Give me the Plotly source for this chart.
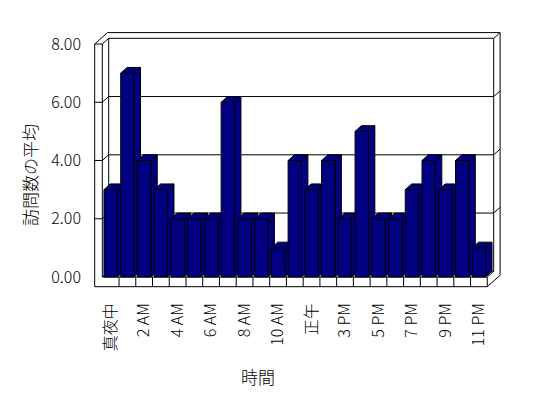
import plotly.graph_objects as go

# ---------------- data ----------------
hour_labels = ["真夜中", "1 AM", "2 AM", "3 AM", "4 AM", "5 AM", "6 AM", "7 AM",
               "8 AM", "9 AM", "10 AM", "11 AM", "正午", "2 PM", "3 PM", "4 PM",
               "5 PM", "6 PM", "7 PM", "8 PM", "9 PM", "10 PM", "11 PM"]
avg_visits = [3, 7, 4, 3, 2, 2, 2, 6, 2, 2, 1, 4, 3, 4, 2, 5, 2, 2, 3, 4, 3, 4, 1]
y_ticks = [0, 2, 4, 6, 8]
y_tick_text = ["0.00", "2.00", "4.00", "6.00", "8.00"]
x_title = "時間"
y_title = "訪問数の平均"

positions = list(range(len(hour_labels)))
tick_positions = positions[::2]
tick_text = hour_labels[::2]

# ---------------- geometry ----------------
# The page body has an 8px default margin, so the figure is drawn 8px smaller
# and every target pixel position is shifted by that offset.
OFF = 8
W, H = 548 - OFF, 398 - OFF
L, R, T, B = 92 - OFF, 503 - OFF, 30 - OFF, 289 - OFF
PX_X0, PX_X1 = 102.3 - OFF, 487.3 - OFF   # inner front-left edge / front-right end of floor
PX_Y0, PX_YT = 277.0 - OFF, 44.0 - OFF    # value 0 and value 8 on the front plane
n = len(hour_labels)
YT = y_ticks[-1]
sx = (PX_X1 - PX_X0) / n
sy = (PX_Y0 - PX_YT) / YT
x_range = [-0.5 - (PX_X0 - L) / sx, n - 0.5 + (R - PX_X1) / sx]
y_range = [-(B - PX_Y0) / sy, YT + (PX_YT - T) / sy]
DX, DY = 6.4 / sx, 5.7 / sy       # depth offset
WALL = 7.6 / sx                   # left wall thickness
FLOOR = 9.7 / sy                  # floor slab thickness
X0, X1 = -0.5, n - 0.5
BW = 0.8

NAVY = "#000080"
FONT = "Noto Sans CJK JP"
WEIGHT = 300


def path(pts, close=False):
    s = "M " + " L ".join(f"{x:.4f},{y:.4f}" for x, y in pts)
    return s + (" Z" if close else "")


shapes = []


def line(pts):
    shapes.append(dict(type="path", path=path(pts), xref="x", yref="y",
                       line=dict(color="black", width=1), layer="below"))


# walls and floor frame
line([(X0 - WALL, -FLOOR), (X0 - WALL, YT), (X0, YT), (X0, 0)])
line([(X0, 0), (X1, 0)])
line([(X0 - WALL, -FLOOR), (X1, -FLOOR)])
line([(X1, 0), (X1, -FLOOR)])
for k in range(1, n):
    line([(X0 + k, 0), (X0 + k, -FLOOR)])
line([(X0 - WALL, YT), (X0 - WALL + 2 * DX, YT + 2 * DY), (X1 + 2 * DX, YT + 2 * DY)])
line([(X0, YT), (X0 + DX, YT + DY), (X1 + DX, YT + DY)])
line([(X0 + DX, YT + DY), (X0 + DX, DY)])
line([(X0, 0), (X0 + DX, DY), (X1 + DX, DY)])
line([(X1 + DX, YT + DY), (X1 + DX, DY)])
line([(X1 + DX, YT + DY), (X1 + 2 * DX, YT + 2 * DY), (X1 + 2 * DX, -FLOOR + 2 * DY), (X1, -FLOOR)])
line([(X1, 0), (X1 + DX, DY)])
# gridlines (left wall + back wall + right end)
for v in y_ticks[1:-1]:
    line([(X0 - WALL, v), (X0, v), (X0 + DX, v + DY), (X1 + DX, v + DY), (X1 + 2 * DX, v + 2 * DY)])

# bar sides and tops (front faces are the Bar trace)
for x, v in zip(positions, avg_visits):
    xl, xr = x - BW / 2, x + BW / 2
    side = [(xr, 0), (xr + DX, DY), (xr + DX, v + DY), (xr, v)]
    top = [(xl, v), (xl + DX, v + DY), (xr + DX, v + DY), (xr, v)]
    for poly in (side, top):
        shapes.append(dict(type="path", path=path(poly, close=True), xref="x", yref="y",
                           fillcolor=NAVY, line=dict(color="black", width=1), layer="below"))

fig = go.Figure(go.Bar(
    x=positions, y=avg_visits, width=BW,
    marker=dict(color=NAVY, line=dict(color="black", width=1)),
    hoverinfo="skip", showlegend=False,
))


def paper_x(px):
    return (px - OFF - L) / (R - L)


def paper_y(py):
    return (B - (py - OFF)) / (B - T)


fig.update_layout(
    width=W, height=H,
    margin=dict(l=L, r=W - R, t=T, b=H - B, pad=0),
    paper_bgcolor="white", plot_bgcolor="rgba(0,0,0,0)",
    font=dict(family=FONT, size=16, color="black", weight=WEIGHT),
    shapes=shapes,
    showlegend=False,
    xaxis=dict(range=x_range, tickmode="array", tickvals=tick_positions, ticktext=tick_text,
               tickangle=-90, showgrid=False, zeroline=False, showline=False, ticks="",
               ticklabelstandoff=10, tickfont=dict(size=16, family=FONT, weight=WEIGHT)),
    yaxis=dict(range=y_range, tickmode="array", tickvals=y_ticks, ticktext=y_tick_text,
               showgrid=False, zeroline=False, showline=False, ticks="",
               ticklabelstandoff=10, tickfont=dict(size=16, family=FONT, weight=WEIGHT)),
    annotations=[
        dict(text=y_title, x=paper_x(29), y=paper_y(175), xref="paper", yref="paper",
             showarrow=False, textangle=-90, font=dict(size=17, family=FONT, weight=WEIGHT),
             xanchor="center", yanchor="middle"),
        dict(text=x_title, x=paper_x(258), y=paper_y(376), xref="paper", yref="paper",
             showarrow=False, font=dict(size=17, family=FONT, weight=WEIGHT),
             xanchor="center", yanchor="middle"),
    ],
)

fig.write_html("out.html")
